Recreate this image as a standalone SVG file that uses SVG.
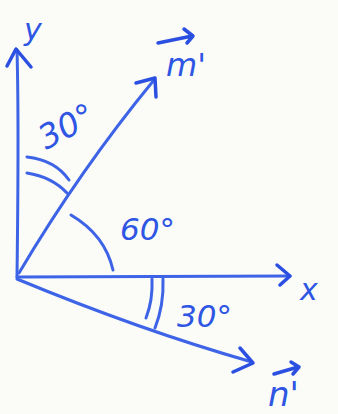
<svg xmlns="http://www.w3.org/2000/svg" width="338" height="414" viewBox="0 0 338 414">
<style>
.ln{fill:none;stroke:#3d63e6;stroke-width:3;stroke-linecap:round;stroke-linejoin:round}
.hd{fill:none;stroke:#2b4fe0;stroke-width:3.5;stroke-linecap:round;stroke-linejoin:round}
.t{fill:#2e55e3;font-family:"DejaVu Sans",sans-serif;font-style:italic}
</style>
<rect width="338" height="414" fill="#fbfbf8"/>
<g id="connectors">
<path class="ln" d="M17,277 C18,200 19,120 17,50"/>
<path class="hd" d="M7,66 L16,49 L31,67"/>
<path class="ln" d="M17,277 L290,276"/>
<path class="hd" d="M277,265 L290,276 L280,285"/>
<path class="ln" d="M19,273 Q80,170 154,80"/>
<path class="hd" d="M136,83 L155,78 L156,97"/>
<path class="ln" d="M17,279 Q140,330 252,362"/>
<path class="hd" d="M240,348 L253,363 L233,372"/>
<path class="ln" d="M27,157 Q55,160 69,180"/>
<path class="ln" d="M27,173 Q52,177 67,193"/>
<path class="ln" d="M71,215 Q105,235 113,270"/>
<path class="ln" d="M152,279 Q153,300 146,318"/>
<path class="ln" d="M163,279 Q164,305 155,328"/>
</g>
<g id="label-y"><text class="t" x="24" y="40" font-size="30">y</text></g>
<g id="label-m"><path class="hd" d="M158,43 L192,36 M184,29 L193,36 L187,43"/><text class="t" x="166" y="76" font-size="32">m'</text></g>
<g id="label-30a"><text class="t" x="46" y="150" font-size="33" transform="rotate(-28 46 150)">30°</text></g>
<g id="label-60"><text class="t" x="120" y="240" font-size="31">60°</text></g>
<g id="label-x"><text class="t" x="300" y="300" font-size="30">x</text></g>
<g id="label-30b"><text class="t" x="177" y="327" font-size="31">30°</text></g>
<g id="label-n"><path class="hd" d="M274,374 L298,367 M291,362 L299,367 L293,374"/><text class="t" x="268" y="406" font-size="34">n'</text></g>
</svg>
